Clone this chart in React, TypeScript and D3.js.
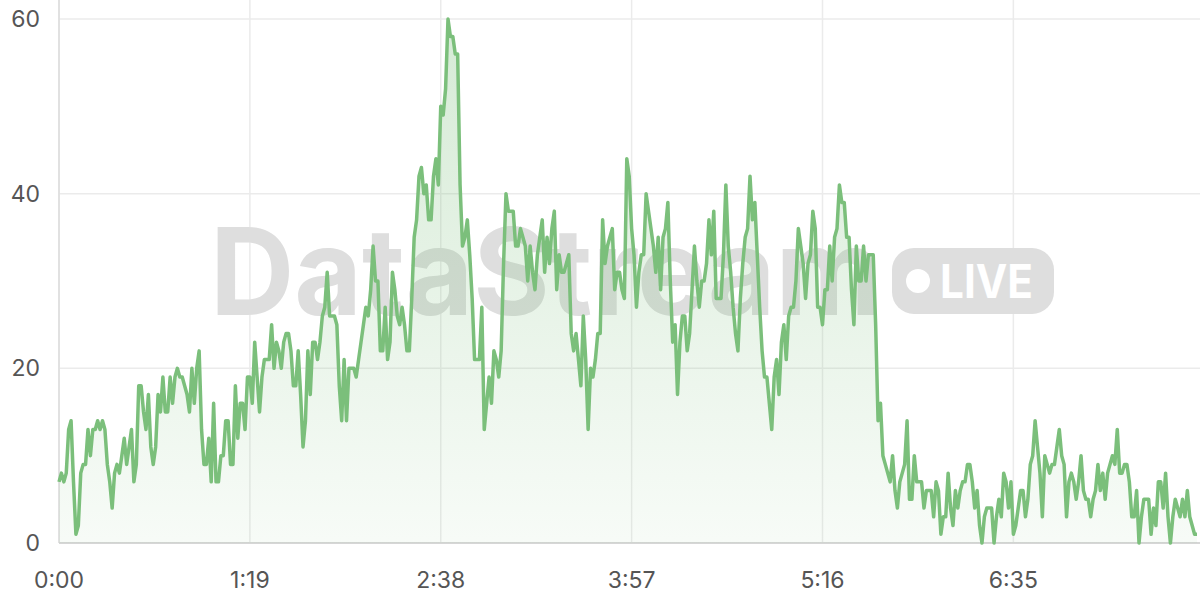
import React from "react";
import * as d3 from "d3";

const values: number[] = [
  7, 8, 7, 8, 13, 14, 7, 1, 2, 8, 9, 9, 13, 10, 13, 13, 14, 13, 14, 13,
  9, 7, 4, 8, 9, 8, 10, 12, 9, 11, 13, 7, 9, 18, 18, 15, 13, 17, 11, 9,
  11, 17, 15, 19, 15, 15, 19, 16, 19, 20, 19, 19, 18, 17, 15, 20, 16, 20, 22, 13,
  9, 9, 12, 7, 16, 7, 7, 10, 10, 14, 14, 9, 9, 18, 12, 16, 16, 13, 19, 19,
  16, 23, 19, 15, 19, 21, 21, 21, 25, 20, 23, 22, 20, 23, 24, 24, 22, 18, 18, 22,
  17, 11, 14, 22, 17, 23, 23, 21, 23, 26, 27, 31, 26, 26, 26, 25, 18, 14, 21, 14,
  20, 20, 20, 19, 21, 23, 25, 27, 26, 29, 34, 30, 30, 22, 22, 27, 21, 23, 31, 29,
  26, 25, 27, 25, 22, 22, 28, 35, 37, 42, 43, 40, 41, 37, 37, 42, 44, 41, 50, 49,
  52, 60, 58, 58, 56, 56, 41, 34, 35, 37, 33, 28, 21, 21, 21, 27, 13, 16, 19, 16,
  22, 21, 19, 22, 32, 40, 38, 38, 38, 34, 34, 36, 35, 34, 30, 34, 31, 29, 33, 35,
  37, 31, 35, 32, 36, 38, 29, 33, 31, 31, 32, 33, 24, 22, 24, 21, 18, 26, 21, 13,
  20, 19, 21, 24, 24, 37, 32, 34, 35, 36, 29, 31, 31, 29, 28, 44, 42, 36, 33, 27,
  31, 33, 33, 40, 38, 36, 34, 31, 35, 29, 35, 36, 39, 30, 23, 25, 17, 23, 26, 26,
  22, 24, 29, 34, 30, 27, 30, 30, 32, 37, 33, 38, 28, 28, 28, 33, 41, 34, 31, 27,
  24, 22, 28, 32, 35, 36, 42, 37, 39, 33, 27, 22, 19, 19, 16, 13, 19, 21, 17, 23,
  25, 21, 26, 27, 27, 30, 36, 34, 32, 28, 32, 33, 38, 36, 27, 27, 25, 29, 29, 34,
  30, 35, 36, 41, 39, 39, 35, 35, 29, 25, 34, 30, 30, 34, 30, 33, 33, 33, 25, 14,
  16, 10, 9, 8, 7, 10, 6, 4, 7, 8, 9, 14, 5, 5, 10, 7, 7, 7, 4, 6,
  6, 6, 3, 7, 6, 1, 3, 3, 8, 4, 2, 6, 4, 6, 7, 7, 9, 9, 7, 4,
  6, 2, 0, 3, 4, 4, 4, 0, 3, 5, 3, 8, 7, 4, 7, 1, 2, 4, 6, 6,
  3, 5, 9, 10, 14, 11, 8, 3, 10, 9, 8, 9, 9, 11, 13, 10, 9, 3, 7, 8,
  7, 5, 7, 10, 6, 5, 5, 3, 5, 6, 9, 6, 8, 5, 8, 9, 10, 9, 13, 8,
  8, 9, 9, 7, 3, 3, 6, 0, 3, 5, 5, 5, 1, 4, 2, 7, 7, 4, 8, 3,
  0, 3, 5, 4, 3, 5, 3, 6, 3, 2, 1, 1,
];

const xTicks: number[] = [0, 79, 158, 237, 316, 395];
const yTicks: number[] = [0, 20, 40, 60];
const watermarkText = "DataStream";
const badgeText = "LIVE";

const W = 1200;
const H = 600;
const left = 59;
const right = 1197;
const top = 19;
const bottom = 543;

const fmt = (s: number) => `${Math.floor(s / 60)}:${String(s % 60).padStart(2, "0")}`;

export default function App() {
  const x = d3.scaleLinear().domain([0, values.length - 1]).range([left, right]);
  const y = d3.scaleLinear().domain([0, 60]).range([bottom, top]);
  const line = d3
    .line<number>()
    .x((_, i) => x(i))
    .y((d) => y(d));
  const area = d3
    .area<number>()
    .x((_, i) => x(i))
    .y0(y(0))
    .y1((d) => y(d));

  return (
    <svg
      width={W}
      height={H}
      style={{ position: "absolute", left: 0, top: 0, background: "#fff" }}
      fontFamily="Inter, 'Noto Sans', sans-serif"
    >
      <defs>
        <linearGradient id="fillGrad" x1="0" y1="0" x2="0" y2="1">
          <stop offset="0%" stopColor="#7dbf7d" stopOpacity={0.32} />
          <stop offset="100%" stopColor="#7dbf7d" stopOpacity={0.06} />
        </linearGradient>
      </defs>
      {yTicks.map((t) => (
        <line key={"gy" + t} x1={left} x2={W} y1={y(t)} y2={y(t)} stroke="#ebebeb" strokeWidth={1.5} />
      ))}
      {xTicks.map((t) => (
        <line key={"gx" + t} x1={x(t)} x2={x(t)} y1={0} y2={bottom} stroke="#ebebeb" strokeWidth={1.5} />
      ))}
      <line x1={left} x2={left} y1={0} y2={bottom} stroke="#dcdcdc" strokeWidth={1.5} />
      <line x1={left} x2={W} y1={bottom} y2={bottom} stroke="#d6d6d6" strokeWidth={2} />

      <g>
        <text
          x={210}
          y={315}
          fontSize={121}
          fontWeight={700}
          fill="#dedede"
          textLength={672}
          lengthAdjust="spacingAndGlyphs"
        >
          {watermarkText}
        </text>
        <rect x={892} y={248} width={162} height={66} rx={22} fill="#dedede" />
        <circle cx={918} cy={281} r={12} fill="#fff" />
        <text x={940} y={298} fontSize={46} fontWeight={700} fill="#fff" textLength={93} lengthAdjust="spacingAndGlyphs">
          {badgeText}
        </text>
      </g>

      <path d={area(values) ?? ""} fill="url(#fillGrad)" />
      <path d={line(values) ?? ""} fill="none" stroke="#7bbf7b" strokeWidth={3.5} strokeLinejoin="round" />

      {yTicks.map((t) => (
        <text key={"ly" + t} x={40} y={y(t)} dy="0.35em" textAnchor="end" fontSize={23} fill="#555">
          {t}
        </text>
      ))}
      {xTicks.map((t) => (
        <text key={"lx" + t} x={x(t)} y={588} textAnchor="middle" fontSize={23} fill="#555">
          {fmt(t)}
        </text>
      ))}
    </svg>
  );
}
